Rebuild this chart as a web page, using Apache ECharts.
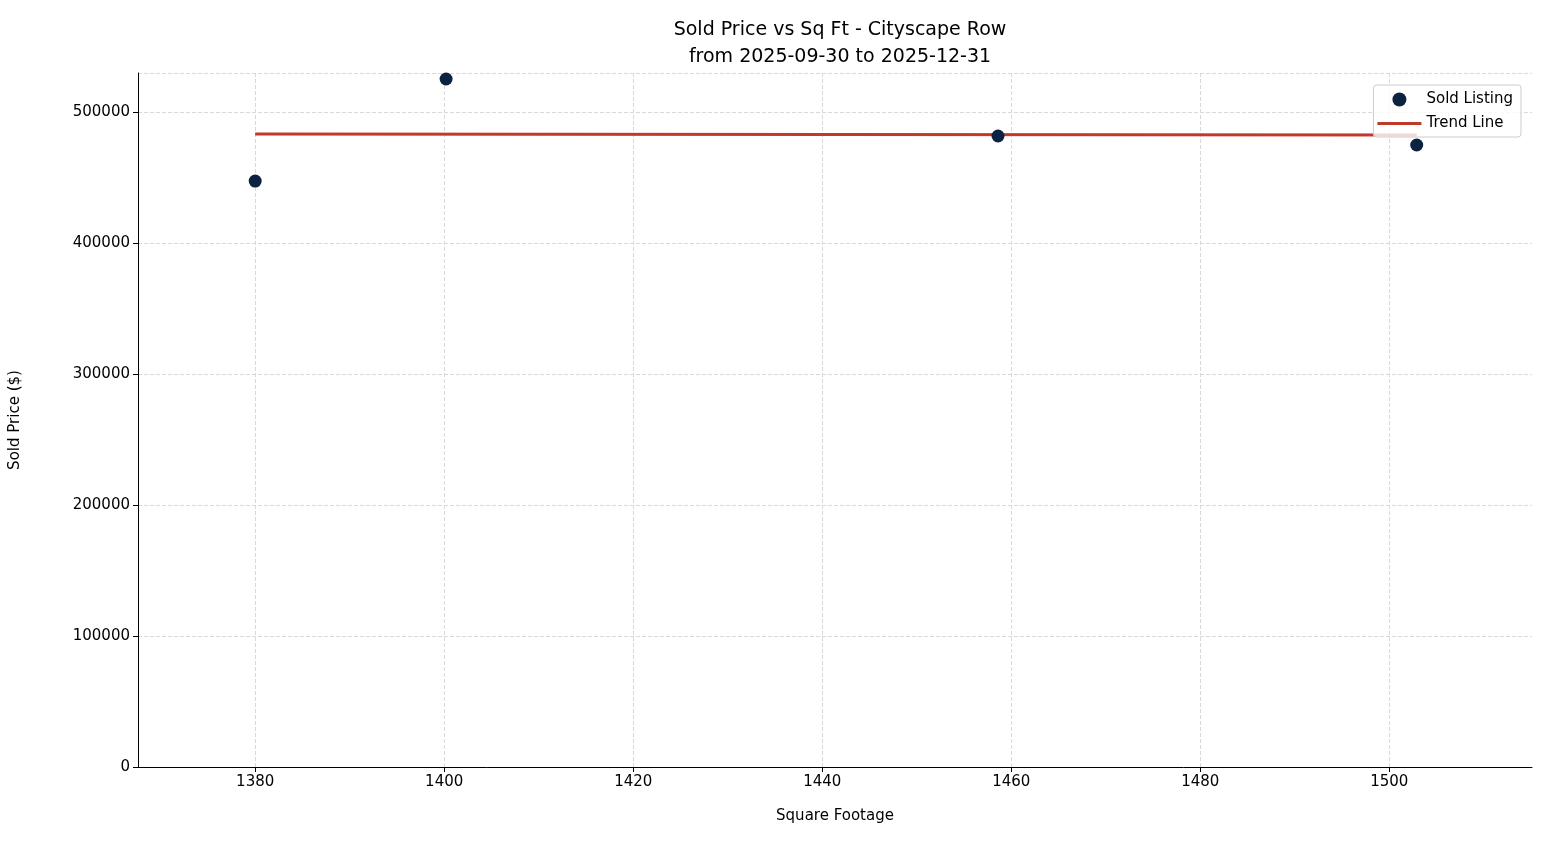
<!DOCTYPE html>
<html>
<head>
<meta charset="utf-8">
<script src="https://cdn.jsdelivr.net/npm/echarts@6/dist/echarts.min.js"></script>
<style>html,body{margin:0;padding:0;background:#fff}#chart{width:1547px;height:845px}</style>
</head>
<body>
<div id="chart"></div>
<script>
// sold listings
var sqft = [1380, 1400.2, 1458.6, 1502.9];
var soldPrice = [447300, 525200, 481700, 474800];
// trend line ends
var trendX = [1380, 1502.9];
var trendY = [483200, 482400];
var xTicks = [1380, 1400, 1420, 1440, 1460, 1480, 1500];

var points = [];
for (var i = 0; i < sqft.length; i++) {
	points.push([sqft[i], soldPrice[i]]);
}
var trend = [[trendX[0], trendY[0]], [trendX[1], trendY[1]]];

var font = 'DejaVu Sans';
var chart = echarts.init(document.getElementById('chart'));
chart.setOption({
	animation: false,
	textStyle: {fontFamily: font},
	title: {
		text: 'Sold Price vs Sq Ft - Cityscape Row\nfrom 2025-09-30 to 2025-12-31',
		left: 835, top: 12, textAlign: 'center',
		textStyle: {fontFamily: font, fontSize: 19, fontWeight: 'normal', color: '#000', lineHeight: 27}
	},
	legend: {
		right: 26, top: 85, orient: 'vertical', itemGap: 9, itemWidth: 44, itemHeight: 14,
		backgroundColor: 'rgba(255,255,255,0.8)', borderColor: '#ccc', borderWidth: 1, borderRadius: 3,
		padding: [7, 8, 6, 4],
		textStyle: {fontFamily: font, fontSize: 15, color: '#000'},
		data: [
			{name: 'Sold Listing', icon: 'path://M16,0A7,7,0,1,1,16,14A7,7,0,1,1,16,0Z'},
			{name: 'Trend Line', icon: 'path://M0,6H44V9H0Z'}
		]
	},
	grid: {left: 137, right: 15, top: 73, bottom: 78},
	xAxis: {
		type: 'value', min: 1367.6, max: 1515.1,
		name: 'Square Footage', nameLocation: 'middle', nameGap: 42,
		nameTextStyle: {fontFamily: font, fontSize: 15, color: '#000'},
		axisLine: {lineStyle: {color: '#000'}},
		axisTick: {show: true, customValues: xTicks, lineStyle: {color: '#000'}},
		axisLabel: {fontFamily: font, fontSize: 15, color: '#000', customValues: xTicks,
			formatter: function (v) { return String(v); }},
		splitLine: {show: true, lineStyle: {color: '#d9d9d9', type: 'dashed'}}
	},
	yAxis: {
		type: 'value', min: 0, max: 529771, interval: 100000,
		name: 'Sold Price ($)', nameLocation: 'middle', nameGap: 115,
		nameTextStyle: {fontFamily: font, fontSize: 15, color: '#000'},
		axisLine: {show: true, lineStyle: {color: '#000'}},
		axisTick: {show: true, lineStyle: {color: '#000'}},
		axisLabel: {fontFamily: font, fontSize: 15, color: '#000', showMaxLabel: false,
			formatter: function (v) { return String(v); }},
		splitLine: {show: true, lineStyle: {color: '#d9d9d9', type: 'dashed'}}
	},
	series: [
		{
			name: 'Sold Listing', type: 'scatter', data: points, symbolSize: 13,
			itemStyle: {color: '#0b2341', opacity: 1}, z: 3
		},
		{
			name: 'Trend Line', type: 'line', data: trend, showSymbol: false, symbol: 'none',
			lineStyle: {color: '#c0392b', width: 3}, itemStyle: {color: '#c0392b'}, z: 2
		}
	]
});
</script>
</body>
</html>
